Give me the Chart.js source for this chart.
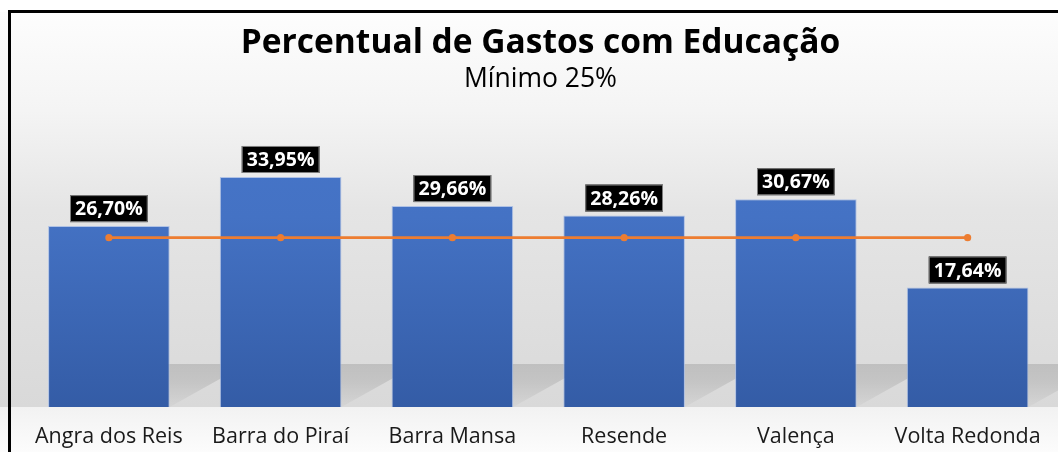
<!DOCTYPE html>
<html>
<head>
<meta charset="utf-8">
<script src="https://cdn.jsdelivr.net/npm/chart.js@4.4.1/dist/chart.umd.min.js"></script>
<style>
  html, body { margin: 0; padding: 0; background: #ffffff; }
  #wrap { width: 1058px; height: 452px; position: relative; }
</style>
</head>
<body>
<div id="wrap"><canvas id="c" width="1058" height="452"></canvas></div>
<script>
const categories = ['Angra dos Reis', 'Barra do Piraí', 'Barra Mansa', 'Resende', 'Valença', 'Volta Redonda'];
const percentValues = [26.70, 33.95, 29.66, 28.26, 30.67, 17.64];
const minimumValues = [25, 25, 25, 25, 25, 25];
const yAxisMin = 0;
const yAxisMax = 40;
const titleText = 'Percentual de Gastos com Educação';
const subtitleText = 'Mínimo 25%';

const fmt = v => v.toFixed(2).replace('.', ',') + '%';

const backgroundPlugin = {
  id: 'bg',
  beforeDraw(chart) {
    const ctx = chart.ctx;
    const w = chart.width, h = chart.height;
    const base = chart.scales.y.getPixelForValue(0);
    ctx.save();
    ctx.fillStyle = '#ffffff';
    ctx.fillRect(0, 0, w, h);
    const g = ctx.createLinearGradient(0, 12, 0, base);
    g.addColorStop(0, '#fdfdfd');
    g.addColorStop(0.25, '#f4f4f4');
    g.addColorStop(0.5, '#e5e5e5');
    g.addColorStop(1, '#d9d9d9');
    ctx.fillStyle = g;
    ctx.fillRect(0, 12, w, base - 12);
    const g2 = ctx.createLinearGradient(0, base, 0, h);
    g2.addColorStop(0, '#f2f2f2');
    g2.addColorStop(1, '#fcfcfc');
    ctx.fillStyle = g2;
    ctx.fillRect(0, base, w, h - base);
    ctx.restore();
  },
  beforeDatasetsDraw(chart) {
    // perspective shadows behind bars
    const ctx = chart.ctx;
    const meta = chart.getDatasetMeta(0);
    const base = chart.scales.y.getPixelForValue(0);
    const sh = 43, sd = 77;
    ctx.save();
    meta.data.forEach(el => {
      const xl = el.x - el.width / 2, xr = el.x + el.width / 2;
      const g = ctx.createLinearGradient(0, base - sh, 0, base);
      g.addColorStop(0, 'rgba(0,0,0,0.13)');
      g.addColorStop(0.4, 'rgba(0,0,0,0.10)');
      g.addColorStop(1, 'rgba(0,0,0,0.02)');
      ctx.fillStyle = g;
      ctx.beginPath();
      ctx.moveTo(xl, base);
      ctx.lineTo(xr, base);
      ctx.lineTo(xr + sd, base - sh);
      ctx.lineTo(xl + sd, base - sh);
      ctx.closePath();
      ctx.fill();
    });
    ctx.restore();
  },
  afterDatasetsDraw(chart) {
    const ctx = chart.ctx;
    const meta = chart.getDatasetMeta(0);
    const ds = chart.data.datasets[0];
    ctx.save();
    ctx.font = 'bold 19.5px "Open Sans"';
    ctx.textAlign = 'center';
    ctx.textBaseline = 'middle';
    meta.data.forEach((el, i) => {
      const txt = fmt(ds.data[i]);
      const tw = ctx.measureText(txt).width;
      const bw = tw + 10, bh = 27;
      const bx = el.x - bw / 2, by = el.y - 4 - bh;
      ctx.fillStyle = '#000000';
      ctx.fillRect(bx, by, bw, bh);
      ctx.strokeStyle = '#7f7f7f';
      ctx.lineWidth = 1;
      ctx.strokeRect(bx + 0.5, by + 0.5, bw - 1, bh - 1);
      ctx.fillStyle = '#ffffff';
      ctx.fillText(txt, el.x, by + bh / 2 + 1);
    });
    ctx.restore();
  },
  afterDraw(chart) {
    const ctx = chart.ctx;
    ctx.save();
    ctx.fillStyle = '#000000';
    ctx.fillRect(8, 10, 3, chart.height - 10);
    ctx.fillRect(8, 10, chart.width - 8, 3);
    ctx.restore();
  }
};

const barGradient = (context) => {
  const chart = context.chart;
  const area = chart.chartArea;
  if (!area) return '#4472c4';
  const g = chart.ctx.createLinearGradient(0, area.top, 0, area.bottom);
  g.addColorStop(0, '#4675c9');
  g.addColorStop(0.3, '#4472c4');
  g.addColorStop(1, '#345ca6');
  return g;
};

new Chart(document.getElementById('c'), {
  data: {
    labels: categories,
    datasets: [
      {
        type: 'bar',
        label: 'Percentual',
        data: percentValues,
        backgroundColor: barGradient,
        borderColor: 'rgba(170,190,228,0.9)',
        borderWidth: 1,
        categoryPercentage: 1,
        barPercentage: 0.708,
        order: 2
      },
      {
        type: 'line',
        label: 'Mínimo',
        data: minimumValues,
        borderColor: '#ED7D31',
        borderWidth: 2.6,
        pointRadius: 3.6,
        pointBackgroundColor: '#ED7D31',
        pointBorderWidth: 0,
        fill: false,
        order: 1
      }
    ]
  },
  options: {
    responsive: false,
    animation: false,
    devicePixelRatio: 1,
    layout: { padding: { top: 12, left: 23, right: 0, bottom: 0 } },
    plugins: {
      legend: { display: false },
      tooltip: { enabled: false },
      title: {
        display: true,
        text: titleText,
        color: '#000000',
        font: { family: '"Open Sans"', size: 33.5, weight: 'bold' },
        padding: { top: 11, bottom: 0 }
      },
      subtitle: {
        display: true,
        text: subtitleText,
        color: '#000000',
        font: { family: '"Open Sans"', size: 26.5, weight: 'normal' },
        padding: { top: 0, bottom: 41 }
      }
    },
    scales: {
      x: {
        grid: { display: false, drawTicks: false },
        border: { display: false },
        ticks: {
          color: '#1a1a1a',
          font: { family: '"Open Sans"', size: 21.5 },
          padding: 17
        },
        afterFit(scale) { scale.height = 45; }
      },
      y: {
        display: false,
        min: yAxisMin,
        max: yAxisMax
      }
    }
  },
  plugins: [backgroundPlugin]
});
</script>
</body>
</html>
